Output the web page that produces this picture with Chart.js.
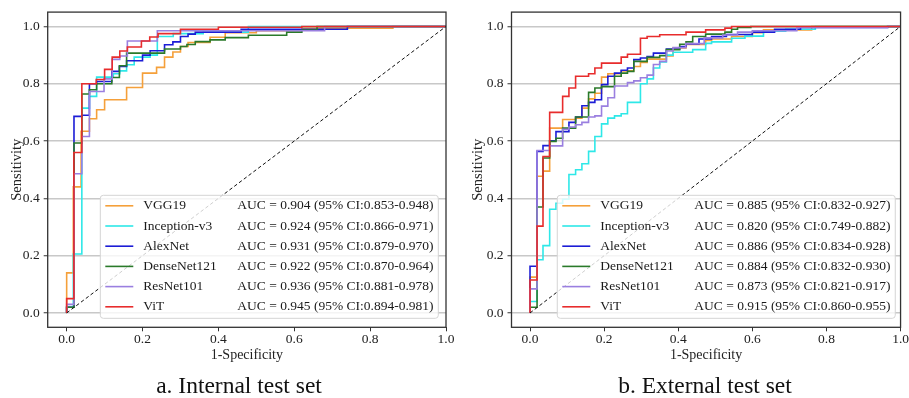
<!DOCTYPE html>
<html>
<head>
<meta charset="utf-8">
<script src="https://cdn.jsdelivr.net/npm/chart.js@4.4.1/dist/chart.umd.min.js"></script>
<style>
html, body { margin: 0; padding: 0; background: #fff; overflow: hidden; width: 909px; height: 398px; }
canvas { position: absolute; top: 0; }
#cInt { left: 0; }
#cExt { left: 460px; }
</style>
</head>
<body>
<canvas id="cInt" width="460" height="398"></canvas>
<canvas id="cExt" width="449" height="398"></canvas>
<script>
// ROC points: each [fpr, tpr] is where the curve rises (at that fpr) up to tpr
const models = ['VGG19', 'Inception-v3', 'AlexNet', 'DenseNet121', 'ResNet101', 'ViT'];
const internalAUC = [
  'AUC = 0.904 (95% CI:0.853-0.948)',
  'AUC = 0.924 (95% CI:0.866-0.971)',
  'AUC = 0.931 (95% CI:0.879-0.970)',
  'AUC = 0.922 (95% CI:0.870-0.964)',
  'AUC = 0.936 (95% CI:0.881-0.978)',
  'AUC = 0.945 (95% CI:0.894-0.981)'
];
const externalAUC = [
  'AUC = 0.885 (95% CI:0.832-0.927)',
  'AUC = 0.820 (95% CI:0.749-0.882)',
  'AUC = 0.886 (95% CI:0.834-0.928)',
  'AUC = 0.884 (95% CI:0.832-0.930)',
  'AUC = 0.873 (95% CI:0.821-0.917)',
  'AUC = 0.915 (95% CI:0.860-0.955)'
];
const tickValues = [0, 0.2, 0.4, 0.6, 0.8, 1.0];
const tickLabels = ['0.0', '0.2', '0.4', '0.6', '0.8', '1.0'];
const diagonal = [[0, 0], [1, 1]];

// internal test set
const intVGG19 = [[0,0],[0,0.14],[0.0175,0.44],[0.038,0.634],[0.06,0.678],[0.079,0.709],[0.10,0.744],
  [0.158,0.787],[0.20,0.837],[0.237,0.857],[0.258,0.893],[0.28,0.911],[0.30,0.93],[0.32,0.944],
  [0.378,0.962],[0.418,0.978],[0.50,0.985],[0.62,0.994],[0.86,1.0],[1,1]];
const intInception = [[0,0],[0,0.02],[0.0175,0.206],[0.04,0.715],[0.06,0.756],[0.079,0.823],[0.123,0.835],
  [0.14,0.845],[0.158,0.866],[0.178,0.893],[0.22,0.90],[0.239,0.965],[0.281,0.975],[0.36,0.98],
  [0.479,1.0],[1,1]];
const intAlexNet = [[0,0],[0,0.02],[0.0193,0.686],[0.04,0.69],[0.06,0.80],[0.079,0.808],[0.119,0.843],
  [0.139,0.86],[0.158,0.88],[0.20,0.90],[0.22,0.915],[0.258,0.936],[0.28,0.946],[0.30,0.965],
  [0.32,0.973],[0.339,0.98],[0.46,0.99],[0.74,1.0],[1,1]];
const intDenseNet = [[0,0],[0,0.02],[0.0193,0.593],[0.04,0.764],[0.06,0.779],[0.079,0.80],[0.119,0.822],
  [0.139,0.863],[0.158,0.907],[0.258,0.921],[0.30,0.93],[0.317,0.937],[0.339,0.947],[0.378,0.953],
  [0.418,0.961],[0.479,0.969],[0.58,0.98],[0.62,0.987],[0.66,1.0],[1,1]];
const intResNet = [[0,0],[0,0.03],[0.0193,0.486],[0.04,0.616],[0.06,0.773],[0.0985,0.817],[0.12,0.885],
  [0.14,0.897],[0.16,0.949],[0.239,0.985],[0.68,1.0],[1,1]];
const intViT = [[0,0],[0,0.05],[0.019,0.56],[0.04,0.80],[0.078,0.815],[0.10,0.85],[0.12,0.893],
  [0.14,0.914],[0.16,0.928],[0.197,0.949],[0.219,0.963],[0.241,0.975],[0.30,0.99],[0.40,0.997],
  [0.62,1.0],[1,1]];

// external test set
const extVGG19 = [[0,0],[0,0.125],[0.019,0.477],[0.035,0.495],[0.053,0.645],[0.088,0.675],[0.123,0.68],
  [0.14,0.715],[0.158,0.747],[0.175,0.767],[0.193,0.823],[0.21,0.835],[0.246,0.845],[0.28,0.86],
  [0.298,0.874],[0.316,0.886],[0.368,0.897],[0.386,0.925],[0.421,0.937],[0.474,0.951],[0.49,0.956],
  [0.544,0.965],[0.60,0.978],[0.63,0.988],[0.76,1.0],[1,1]];
const extInception = [[0,0],[0,0.04],[0.019,0.186],[0.035,0.235],[0.053,0.362],[0.07,0.383],[0.088,0.397],
  [0.105,0.483],[0.123,0.50],[0.14,0.521],[0.158,0.564],[0.175,0.616],[0.193,0.66],[0.21,0.68],
  [0.228,0.688],[0.246,0.695],[0.263,0.735],[0.298,0.80],[0.316,0.817],[0.333,0.855],[0.35,0.876],
  [0.368,0.90],[0.386,0.91],[0.439,0.919],[0.474,0.941],[0.49,0.946],[0.544,0.959],[0.58,0.966],
  [0.63,0.983],[0.69,0.99],[0.77,1.0],[1,1]];
const extAlexNet = [[0,0],[0,0.163],[0.019,0.564],[0.035,0.584],[0.053,0.601],[0.07,0.633],[0.105,0.665],
  [0.123,0.684],[0.14,0.723],[0.158,0.735],[0.175,0.744],[0.193,0.797],[0.21,0.826],[0.228,0.837],
  [0.246,0.847],[0.263,0.855],[0.28,0.884],[0.298,0.89],[0.316,0.895],[0.333,0.907],[0.368,0.921],
  [0.404,0.93],[0.421,0.939],[0.456,0.956],[0.49,0.965],[0.53,0.972],[0.60,0.98],[0.66,0.99],
  [0.73,0.996],[0.965,1.0],[1,1]];
const extDenseNet = [[0,0],[0,0.02],[0.019,0.37],[0.035,0.541],[0.053,0.599],[0.07,0.61],[0.088,0.645],
  [0.123,0.684],[0.158,0.77],[0.175,0.785],[0.193,0.79],[0.228,0.826],[0.246,0.837],[0.263,0.843],
  [0.28,0.878],[0.316,0.892],[0.35,0.898],[0.368,0.919],[0.404,0.938],[0.421,0.946],[0.439,0.965],
  [0.474,0.973],[0.526,0.98],[0.544,0.99],[0.56,0.996],[0.596,1.0],[1,1]];
const extResNet = [[0,0],[0,0.084],[0.019,0.567],[0.053,0.583],[0.088,0.641],[0.105,0.649],[0.123,0.657],
  [0.14,0.665],[0.158,0.684],[0.175,0.688],[0.193,0.722],[0.21,0.751],[0.228,0.792],[0.263,0.804],
  [0.28,0.81],[0.298,0.821],[0.316,0.83],[0.333,0.867],[0.35,0.878],[0.368,0.914],[0.386,0.926],
  [0.42,0.94],[0.47,0.96],[0.52,0.97],[0.56,0.98],[0.60,0.985],[0.72,0.996],[0.965,1.0],[1,1]];
const extViT = [[0,0],[0,0.115],[0.019,0.303],[0.035,0.546],[0.053,0.70],[0.088,0.756],[0.105,0.785],
  [0.123,0.826],[0.158,0.835],[0.175,0.855],[0.193,0.872],[0.246,0.893],[0.263,0.903],[0.298,0.959],
  [0.316,0.965],[0.35,0.971],[0.421,0.98],[0.474,0.988],[0.526,0.994],[0.544,1.0],[1,1]];

const colors = ['#f5a03a', '#2ee8e8', '#1c1cd6', '#2a7a2a', '#9a7fe0', '#e82c2c'];
const FONT = 'Liberation Serif';

// turn the rise points into the up-then-right staircase of a ROC curve
function staircase(pts) {
  const out = [{ x: pts[0][0], y: pts[0][1] }];
  for (let i = 1; i < pts.length; i++) {
    out.push({ x: pts[i][0], y: pts[i - 1][1] });
    out.push({ x: pts[i][0], y: pts[i][1] });
  }
  return out;
}

// axes frame plus the sub-figure caption under the plot
const frame = {
  id: 'frame',
  afterDraw(chart, args, o) {
    const { ctx, chartArea: a } = chart;
    ctx.save();
    ctx.strokeStyle = '#333';
    ctx.lineWidth = 1.3;
    ctx.strokeRect(a.left, a.top, a.right - a.left, a.bottom - a.top);
    ctx.font = '23.5px "' + FONT + '"';
    ctx.fillStyle = '#111';
    ctx.textAlign = 'center';
    ctx.textBaseline = 'middle';
    ctx.fillText(o.caption, o.captionX, 387);
    ctx.restore();
  }
};

const legendBox = {
  id: 'legendBox',
  afterDatasetsDraw(chart, args, o) {
    const { ctx, chartArea: a } = chart;
    const w = 338, h = 123;
    const x0 = a.right - o.right - w, y0 = a.bottom - o.bottom - h;
    ctx.save();
    ctx.beginPath();
    ctx.roundRect(x0, y0, w, h, 3);
    ctx.fillStyle = 'rgba(255,255,255,0.8)';
    ctx.fill();
    ctx.strokeStyle = '#d4d4d4';
    ctx.lineWidth = 1;
    ctx.stroke();
    ctx.font = '13.5px "' + FONT + '"';
    ctx.textBaseline = 'middle';
    ctx.fillStyle = '#1a1a1a';
    models.forEach((m, i) => {
      const y = y0 + 10.5 + i * 20.2;
      ctx.strokeStyle = colors[i];
      ctx.lineWidth = 1.6;
      ctx.beginPath();
      ctx.moveTo(x0 + 5, y);
      ctx.lineTo(x0 + 33, y);
      ctx.stroke();
      ctx.fillText(m, x0 + 43, y);
      ctx.fillText(o.auc[i], x0 + 137, y);
    });
    ctx.restore();
  }
};

function makeChart(id, curves, auc, lay) {
  const datasets = curves.map((c, i) => ({
    label: models[i],
    data: staircase(c),
    borderColor: colors[i],
    borderWidth: 1.6,
    pointRadius: 0,
    fill: false,
    tension: 0,
    order: models.length - i
  }));
  datasets.push({
    label: 'chance',
    data: diagonal.map(p => ({ x: p[0], y: p[1] })),
    borderColor: '#111',
    borderWidth: 1,
    borderDash: [3.5, 2.5],
    pointRadius: 0,
    fill: false,
    order: 0
  });
  return new Chart(document.getElementById(id), {
    type: 'line',
    data: { datasets },
    options: {
      responsive: false,
      animation: false,
      devicePixelRatio: 1,
      layout: { autoPadding: false, padding: { left: lay.padLeft, top: 12, right: lay.padRight, bottom: 30 } },
      plugins: {
        legend: { display: false },
        tooltip: { enabled: false },
        legendBox: { auc, right: lay.legRight, bottom: lay.legBottom },
        frame: { caption: lay.caption, captionX: lay.captionX }
      },
      scales: {
        x: {
          type: 'linear', min: -0.05, max: 1.0,
          afterBuildTicks: s => { s.ticks = tickValues.map(v => ({ value: v })); },
          afterFit: s => { s.height = 40.7; },
          ticks: { font: { family: FONT, size: 13.5 }, color: '#222', padding: 0,
                   maxRotation: 0, callback: (v, i) => tickLabels[i] },
          grid: { drawOnChartArea: false, tickLength: 4, tickColor: '#333', tickWidth: 1 },
          border: { display: false },
          title: { display: true, text: '1-Specificity', color: '#222',
                   font: { family: FONT, size: 14 }, padding: { top: 0, bottom: 4 } }
        },
        y: {
          type: 'linear', min: -0.05, max: 1.05,
          afterBuildTicks: s => { s.ticks = tickValues.map(v => ({ value: v })); },
          afterFit: s => { s.width = lay.yWidth; },
          ticks: { font: { family: FONT, size: 13.5 }, color: '#222', padding: 4,
                   callback: (v, i) => tickLabels[i] },
          grid: { color: '#c8c8c8', lineWidth: 1.5, tickLength: 4, tickColor: '#333', tickWidth: 1 },
          border: { display: false },
          title: { display: true, text: 'Sensitivity', color: '#222',
                   font: { family: FONT, size: 14.5 }, padding: { top: 4, bottom: 0 } }
        }
      }
    },
    plugins: [legendBox, frame]
  });
}

makeChart('cInt', [intVGG19, intInception, intAlexNet, intDenseNet, intResNet, intViT], internalAUC,
  { padLeft: 4.6, padRight: 14, yWidth: 43.1, legRight: 7.7, legBottom: 9,
    caption: 'a. Internal test set', captionX: 239 });
makeChart('cExt', [extVGG19, extInception, extAlexNet, extDenseNet, extResNet, extViT], externalAUC,
  { padLeft: 5.6, padRight: 1, yWidth: 45.9, legRight: 5.3, legBottom: 9,
    caption: 'b. External test set', captionX: 245 });
</script>
</body>
</html>
